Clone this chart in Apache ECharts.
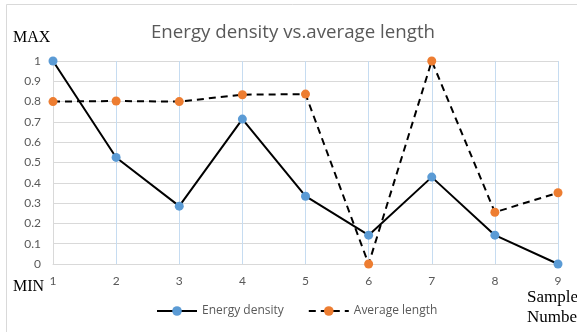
<!DOCTYPE html>
<html><head><meta charset="utf-8">
<script src="https://cdn.jsdelivr.net/npm/echarts@6/dist/echarts.min.js"></script>
<style>html,body{margin:0;padding:0;background:#fff}#c{width:577px;height:332px}</style>
</head><body><div id="c"></div>
<script>
var categories = ['1','2','3','4','5','6','7','8','9'];
var energyDensity = [1, 0.525, 0.285, 0.714, 0.334, 0.142, 0.428, 0.142, 0];
var averageLength = [0.8, 0.803, 0.8, 0.834, 0.837, 0, 1, 0.255, 0.351];
var titleText = 'Energy density vs.average length';
var seriesNames = ['Energy density', 'Average length'];

var chart = echarts.init(document.getElementById('c'), null, {renderer:'canvas'});
chart.setOption({
  animation:false,
  backgroundColor:'#fff',
  title:{text:titleText,left:288,textAlign:'center',top:18,
    textStyle:{fontFamily:'Open Sans',fontSize:18.7,fontWeight:'normal',color:'#595959'}},
  grid:{left:53,right:19,top:61,bottom:68,containLabel:false},
  legend:{bottom:10,left:151,itemWidth:40,itemHeight:12,itemGap:24,
    textStyle:{fontFamily:'Open Sans',fontSize:12,color:'#595959'},
    data:seriesNames},
  xAxis:{type:'category',data:categories,boundaryGap:false,
    axisLine:{lineStyle:{color:'#d9d9d9',width:1}},
    axisTick:{show:false},
    axisLabel:{color:'#595959',fontFamily:'Lato',fontSize:12,margin:11},
    splitLine:{show:true,lineStyle:{color:'#c6dcf1',width:1}}},
  yAxis:{type:'value',min:0,max:1,interval:0.1,
    axisLine:{show:true,lineStyle:{color:'#d9d9d9'}},
    axisTick:{show:false},
    axisLabel:{color:'#595959',fontFamily:'Lato',fontSize:12,margin:12},
    splitLine:{lineStyle:{color:'#d9d9d9',width:1}}},
  series:[
    {name:seriesNames[0],type:'line',data:energyDensity,symbol:'circle',symbolSize:9,
      lineStyle:{color:'#000',width:2},itemStyle:{color:'#5b9bd5'},z:3},
    {name:seriesNames[1],type:'line',data:averageLength,symbol:'circle',symbolSize:9,
      lineStyle:{color:'#000',width:2,type:[7,5]},itemStyle:{color:'#ed7d31'},z:2}
  ],
  graphic:[
    {type:'rect',shape:{x:6.5,y:4.5,width:700,height:500},silent:true,z:-10,
      style:{fill:null,stroke:'#d9d9d9',lineWidth:1}},
    {type:'text',left:13,top:30,style:{text:'MAX',fontFamily:'Liberation Serif',fontSize:16,fill:'#000'}},
    {type:'text',left:13,top:279,style:{text:'MIN',fontFamily:'Liberation Serif',fontSize:16,fill:'#000'}},
    {type:'text',x:527,y:288,style:{text:'Sample\nNumber',fontFamily:'Liberation Serif',fontSize:17,lineHeight:20,fill:'#000'}}
  ]
});
</script></body></html>
